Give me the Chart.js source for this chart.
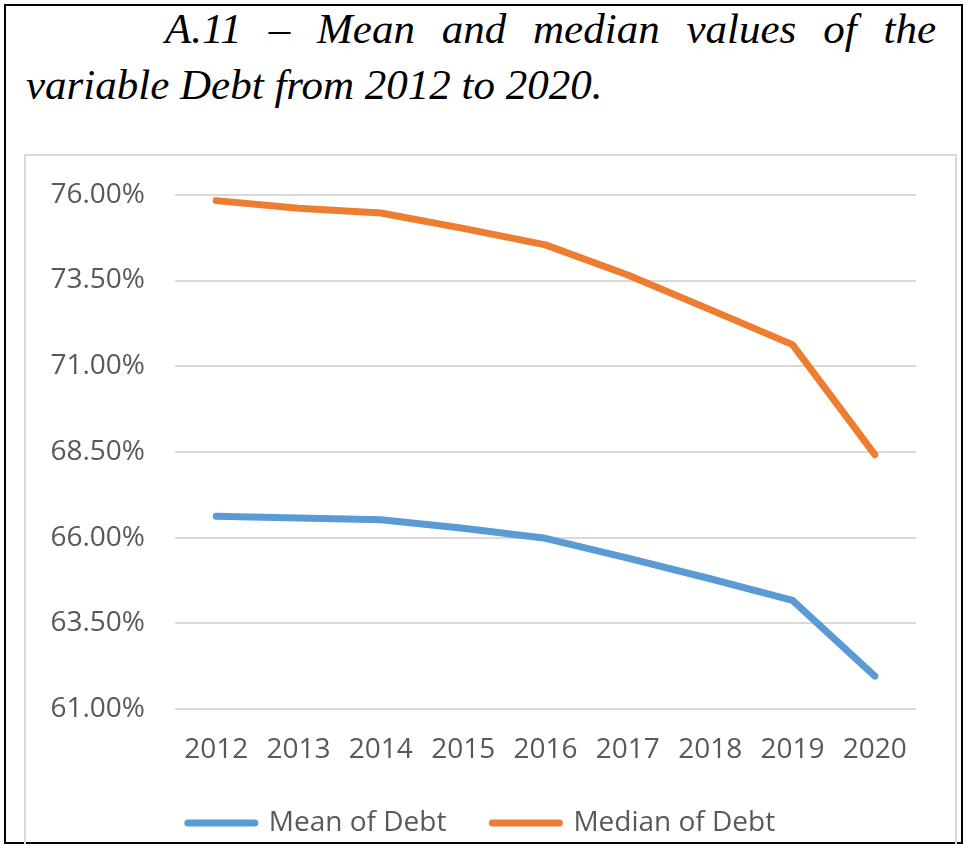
<!DOCTYPE html>
<html>
<head>
<meta charset="utf-8">
<script src="https://cdn.jsdelivr.net/npm/chart.js@4.4.1/dist/chart.umd.min.js"></script>
<style>
    html, body {
        margin: 0;
        padding: 0;
        background: #fff;
        width: 966px;
        height: 844px;
        overflow: hidden;
    }
    #outer {
        position: absolute;
        left: 4px;
        top: 4px;
        width: 959px;
        height: 840px;
        border: 2px solid #000;
        box-sizing: border-box;
    }
    #title {
        position: absolute;
        left: 26px;
        top: 1px;
        width: 910px;
        font-family: "Liberation Serif", "Times New Roman", serif;
        font-style: italic;
        font-size: 43px;
        line-height: 56px;
        text-align: justify;
        text-indent: 139px;
        color: #000;
    }
    #frame {
        position: absolute;
        left: 24px;
        top: 154px;
        width: 933px;
        height: 720px;
        border: 2px solid #d9d9d9;
        box-sizing: border-box;
    }
    #myChart {
        position: absolute;
        left: 27px;
        top: 148px;
    }
</style>
</head>
<body>
<div id="outer"></div>
<div id="title">A.11 – Mean and median values of the variable Debt from 2012 to 2020.</div>
<div id="frame"></div>
<canvas id="myChart" width="928" height="709"></canvas>

<script>
// values (percent)
const years = ["2012", "2013", "2014", "2015", "2016", "2017", "2018", "2019", "2020"];
const meanDebt = [66.62, 66.57, 66.52, 66.27, 65.98, 65.40, 64.80, 64.17, 61.96];
const medianDebt = [75.83, 75.61, 75.47, 75.02, 74.54, 73.66, 72.65, 71.63, 68.42];

const yMin = 61;
const yMax = 76;
const yStep = 2.5;

const textColor = "#595959";
const font = { family: "'Open Sans', sans-serif", size: 28 };

const dataDebt = {
    labels: years,
    datasets: [
        {
            label: "Mean of Debt",
            data: meanDebt,
            borderColor: "#5B9BD5",
            backgroundColor: "#5B9BD5",
            borderWidth: 7,
            borderCapStyle: "round",
            borderJoinStyle: "round",
            pointRadius: 0,
            pointStyle: "line",
            tension: 0,
        },
        {
            label: "Median of Debt",
            data: medianDebt,
            borderColor: "#ED7D31",
            backgroundColor: "#ED7D31",
            borderWidth: 7,
            borderCapStyle: "round",
            borderJoinStyle: "round",
            pointRadius: 0,
            pointStyle: "line",
            tension: 0,
        },
    ],
};

const config = {
    type: "line",
    data: dataDebt,
    options: {
        responsive: false,
        animation: false,
        layout: {
            padding: { top: 28, right: 39, left: 20, bottom: 10 },
        },
        plugins: {
            legend: {
                position: "bottom",
                labels: {
                    usePointStyle: true,
                    pointStyleWidth: 67,
                    boxHeight: 7,
                    padding: 46,
                    color: textColor,
                    font: font,
                    generateLabels: (chart) =>
                        Chart.defaults.plugins.legend.labels
                            .generateLabels(chart)
                            .map((l) => ({ ...l, lineWidth: 7, lineCap: "round" })),
                },
            },
            tooltip: { enabled: false },
        },
        scales: {
            x: {
                offset: true,
                grid: { display: false },
                border: { display: false },
                ticks: {
                    color: textColor,
                    font: font,
                    padding: 16.5,
                    maxRotation: 0,
                },
                afterFit: (scale) => {
                    scale.height = 54;
                },
            },
            y: {
                min: yMin,
                max: yMax,
                border: { display: false },
                grid: {
                    color: "#d9d9d9",
                    lineWidth: 2,
                    drawTicks: false,
                },
                ticks: {
                    stepSize: yStep,
                    color: textColor,
                    font: font,
                    padding: 30,
                    callback: (v) => v.toFixed(2) + "%",
                },
                afterFit: (scale) => {
                    scale.width = 128;
                },
            },
        },
    },
};

new Chart(document.getElementById("myChart"), config);
</script>
</body>
</html>
